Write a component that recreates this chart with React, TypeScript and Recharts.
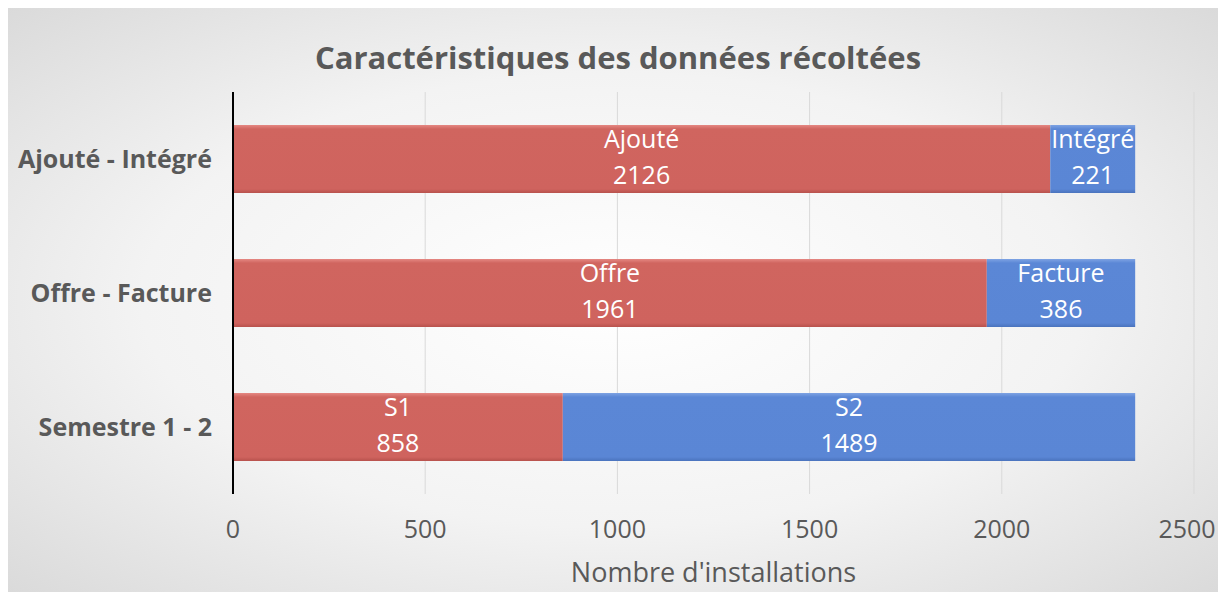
import { Bar, BarChart, CartesianGrid, LabelList, XAxis, YAxis } from 'recharts';

const CATEGORIES = ['Ajouté - Intégré', 'Offre - Facture', 'Semestre 1 - 2'];
const FIRST_NAMES = ['Ajouté', 'Offre', 'S1'];
const FIRST_VALUES = [2126, 1961, 858];
const SECOND_NAMES = ['Intégré', 'Facture', 'S2'];
const SECOND_VALUES = [221, 386, 1489];
const X_TICKS = [0, 500, 1000, 1500, 2000, 2500];

const FONT = '"Open Sans", "Noto Sans", sans-serif';
const TEXT = '#595959';
const W = 1210;
const H = 584;

const data = CATEGORIES.map((c, i) => ({
  name: c,
  first: FIRST_VALUES[i],
  second: SECOND_VALUES[i],
}));

function makeLabel(names: string[]) {
  return (props: any) => {
    const { x, y, width, height, value, index } = props;
    const cx = Number(x) + Number(width) / 2;
    const cy = Number(y) + Number(height) / 2;
    return (
      <text x={cx} y={cy} textAnchor="middle" fill="#ffffff" fontSize={25} fontFamily={FONT}>
        <tspan x={cx} y={cy - 18} dominantBaseline="middle">
          {names[index]}
        </tspan>
        <tspan x={cx} y={cy + 18} dominantBaseline="middle">
          {value}
        </tspan>
      </text>
    );
  };
}

// keeps the last tick label inside the frame
function XTick(props: any) {
  const { x, y, payload } = props;
  const halfWidth = 29;
  const cx = Math.min(Number(x), W - 2 - halfWidth);
  return (
    <text x={cx} y={Number(y) + 20} textAnchor="middle" fill={TEXT} fontSize={25} fontFamily={FONT}>
      {payload.value}
    </text>
  );
}

export default function App() {
  return (
    <div
      style={{
        position: 'relative',
        width: W,
        height: H,
        background: 'radial-gradient(ellipse at center, #ffffff 0%, #f3f3f3 55%, #dadada 100%)',
        fontFamily: FONT,
      }}
    >
      <div
        style={{
          position: 'absolute',
          top: 28,
          left: 10,
          width: W - 10,
          textAlign: 'center',
          fontSize: 31,
          lineHeight: '42px',
          fontWeight: 700,
          color: TEXT,
        }}
      >
        Caractéristiques des données récoltées
      </div>
      <BarChart
        width={W}
        height={H}
        data={data}
        layout="vertical"
        margin={{ top: 84, right: 24, left: 0, bottom: 0 }}
        barSize={68}
        style={{ position: 'absolute', top: 0, left: 0 }}
      >
        <defs>
          <linearGradient id="redFill" x1="0" y1="0" x2="0" y2="1">
            <stop offset="0%" stopColor="#e58883" />
            <stop offset="6%" stopColor="#d0655f" />
            <stop offset="94%" stopColor="#cf635e" />
            <stop offset="100%" stopColor="#b8524d" />
          </linearGradient>
          <linearGradient id="blueFill" x1="0" y1="0" x2="0" y2="1">
            <stop offset="0%" stopColor="#7ea3e3" />
            <stop offset="6%" stopColor="#5b87d6" />
            <stop offset="94%" stopColor="#5a86d5" />
            <stop offset="100%" stopColor="#4a73bd" />
          </linearGradient>
        </defs>
        <CartesianGrid horizontal={false} stroke="#d9d9d9" />
        <XAxis
          type="number"
          domain={[0, 2500]}
          ticks={X_TICKS}
          height={98}
          axisLine={false}
          tickLine={false}
          tickSize={0}
          tickMargin={24}
          tick={<XTick />}
          label={{
            value: "Nombre d'installations",
            position: 'insideBottom',
            offset: 10,
            fill: TEXT,
            fontSize: 27,
            fontFamily: FONT,
          }}
        />
        <YAxis
          type="category"
          dataKey="name"
          width={225}
          axisLine={{ stroke: '#000000', strokeWidth: 2 }}
          tickLine={false}
          tickSize={0}
          tickMargin={21}
          tick={{ fill: TEXT, fontSize: 25, fontWeight: 700, fontFamily: FONT }}
        />
        <Bar dataKey="first" stackId="a" fill="url(#redFill)" isAnimationActive={false}>
          <LabelList dataKey="first" content={makeLabel(FIRST_NAMES)} />
        </Bar>
        <Bar dataKey="second" stackId="a" fill="url(#blueFill)" isAnimationActive={false}>
          <LabelList dataKey="second" content={makeLabel(SECOND_NAMES)} />
        </Bar>
      </BarChart>
    </div>
  );
}
